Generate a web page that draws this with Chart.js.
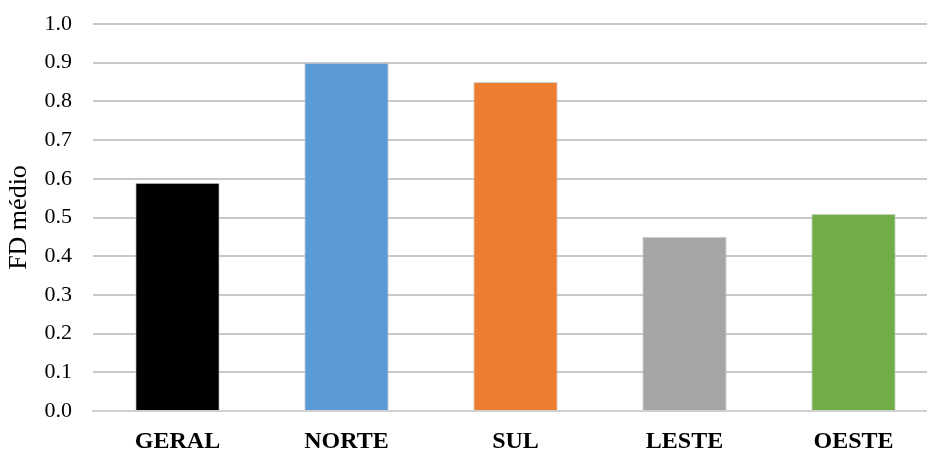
<!DOCTYPE html>
<html>
<head>
<meta charset="utf-8">
<script src="https://cdn.jsdelivr.net/npm/chart.js@4/dist/chart.umd.min.js"></script>
<style>
  html, body { margin: 0; padding: 0; background: #fff; overflow: hidden; }
  #wrap { width: 927px; height: 450px; overflow: hidden; }
</style>
</head>
<body>
<!-- canvas is a bit wider than the frame: the plot runs past the right edge -->
<div id="wrap"><canvas id="myChart" width="940" height="450"></canvas></div>
<script>
const regioes = ['GERAL', 'NORTE', 'SUL', 'LESTE', 'OESTE'];
const fdMedio = [0.59, 0.90, 0.85, 0.45, 0.51];
const cores = ['#000000', '#5b9bd5', '#ed7d31', '#a5a5a5', '#70ad47'];

const data = {
    labels: regioes,
    datasets: [{
        data: fdMedio,
        backgroundColor: cores,
        borderColor: 'rgba(200, 200, 200, 0.8)',
        borderWidth: 1,
        barPercentage: 0.5,
        categoryPercentage: 1.0
    }]
};

const config = {
    type: 'bar',
    data: data,
    options: {
        responsive: false,
        animation: false,
        layout: {
            autoPadding: false,
            padding: { top: 24, right: 2, left: 0, bottom: 0 }
        },
        scales: {
            x: {
                grid: { display: false, drawTicks: false },
                border: { color: '#d0d0d0', width: 2 },
                ticks: {
                    color: '#000',
                    padding: 16,
                    font: { family: 'Liberation Serif', size: 24, weight: 'bold' }
                },
                afterFit: function(scale) { scale.height = 39; }
            },
            y: {
                min: 0,
                max: 1.0,
                ticks: {
                    stepSize: 0.1,
                    color: '#000',
                    padding: 21,
                    font: { family: 'Liberation Serif', size: 22 },
                    callback: function(v) { return Number(v).toFixed(1); }
                },
                grid: { color: '#c8c8c8', lineWidth: 2, drawTicks: false },
                border: { display: false },
                title: {
                    display: true,
                    text: 'FD médio',
                    color: '#000',
                    padding: { top: 4, bottom: 0 },
                    font: { family: 'Liberation Serif', size: 26 }
                },
                afterFit: function(scale) {
                    scale.width = 93;
                    scale.paddingTop = 0;
                    scale.paddingBottom = 0;
                }
            }
        },
        plugins: {
            legend: { display: false },
            tooltip: { enabled: false }
        }
    }
};

const myChart = new Chart(
    document.getElementById('myChart'),
    config
);
</script>
</body>
</html>
